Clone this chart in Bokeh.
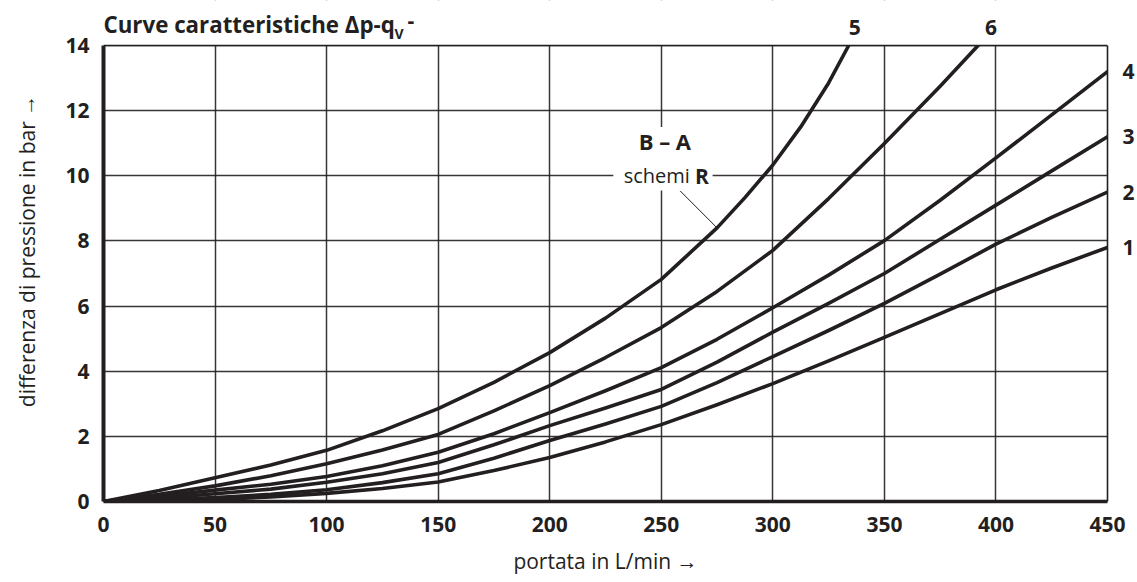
from bokeh.plotting import figure
from bokeh.models import Range1d, FixedTicker, Label, BoxAnnotation, LinearAxis, Span
from bokeh.embed import file_html
from bokeh.resources import INLINE

# ---------------- data ----------------
x_ticks = [0, 50, 100, 150, 200, 250, 300, 350, 400, 450]
y_ticks = [0, 2, 4, 6, 8, 10, 12, 14]

q = [0, 25, 50, 75, 100, 125, 150, 175, 200, 225, 250, 275, 300, 325, 350, 375, 400, 425, 450]
dp1 = [0, 0.02, 0.06, 0.14, 0.25, 0.40, 0.60, 0.95, 1.35, 1.83, 2.36, 2.97, 3.62, 4.32, 5.04, 5.77, 6.50, 7.17, 7.80]
dp2 = [0, 0.05, 0.12, 0.22, 0.36, 0.58, 0.85, 1.33, 1.87, 2.38, 2.92, 3.65, 4.45, 5.25, 6.08, 6.98, 7.90, 8.72, 9.50]
dp3 = [0, 0.10, 0.24, 0.38, 0.59, 0.85, 1.20, 1.74, 2.33, 2.87, 3.44, 4.28, 5.20, 6.08, 7.00, 8.05, 9.10, 10.15, 11.20]
dp4 = [0, 0.16, 0.35, 0.53, 0.77, 1.10, 1.51, 2.08, 2.73, 3.40, 4.11, 4.98, 5.95, 6.95, 8.01, 9.25, 10.55, 11.87, 13.20]
q6 = [0, 25, 50, 75, 100, 125, 150, 175, 200, 225, 250, 275, 300, 325, 350, 375, 392]
dp6 = [0, 0.22, 0.48, 0.79, 1.16, 1.58, 2.06, 2.78, 3.56, 4.42, 5.34, 6.45, 7.71, 9.30, 10.99, 12.75, 14.0]
q5 = [0, 25, 50, 75, 100, 125, 150, 175, 200, 225, 250, 275, 287.5, 300, 312.5, 325, 334]
dp5 = [0, 0.34, 0.73, 1.12, 1.57, 2.17, 2.85, 3.66, 4.57, 5.63, 6.82, 8.40, 9.33, 10.33, 11.50, 12.85, 14.0]

right_names = ["1", "2", "3", "4"]
right_values = [dp1[-1], dp2[-1], dp3[-1], dp4[-1]]
top_names = ["5", "6"]
top_values = [q5[-1], q6[-1]]
top_dx = [6, 13]            # px shift of the top labels from the curve exits

title_main = "Curve caratteristiche \u0394p-q"
title_sub = "V"
title_tail = "-"
x_label = "portata in L/min \u2192"
y_label = "differenza di pressione in bar \u2192"

INK = "#231f20"
FONT = "Open Sans"
W, H = 1137, 582
BL, BR, BT, BB = 103, 29, 45, 81      # wanted chart-box margins in px

X0, X1, Y0, Y1 = 0, 450, 0, 14
# the plotting frame reaches the canvas top so the texts above the box are not clipped
Y_TOP = Y1 + BT * (Y1 - Y0) / (H - BT - BB)

p = figure(width=W, height=H, output_backend="svg", toolbar_location=None,
           x_range=Range1d(X0, X1), y_range=Range1d(Y0, Y_TOP),
           min_border_left=BL, min_border_right=BR, min_border_top=0, min_border_bottom=BB)
p.background_fill_color = "white"
p.border_fill_color = "white"
p.outline_line_color = None

xb = p.below[0]
yl = p.left[0]
xb.ticker = FixedTicker(ticks=x_ticks)
yl.ticker = FixedTicker(ticks=y_ticks)
yl.bounds = (Y0, Y1)
p.xgrid.ticker = FixedTicker(ticks=x_ticks)
p.ygrid.ticker = FixedTicker(ticks=y_ticks)
for g in (p.xgrid, p.ygrid):
    g.grid_line_color = INK
    g.grid_line_width = 1.5
    g.grid_line_alpha = 0.9

right_axis = LinearAxis(ticker=FixedTicker(ticks=right_values), bounds=(Y0, Y1),
                        major_label_overrides={v: n for v, n in zip(right_values, right_names)})
p.add_layout(right_axis, "right")

for ax in (xb, yl, right_axis):
    ax.major_tick_line_color = None
    ax.minor_tick_line_color = None
    ax.major_tick_out = 0
    ax.major_tick_in = 0
    ax.minor_tick_out = 0
    ax.minor_tick_in = 0
    ax.axis_line_color = INK
    ax.major_label_text_font = FONT
    ax.major_label_text_font_size = "21px"
    ax.major_label_text_font_style = "bold"
    ax.major_label_text_color = INK
    ax.axis_label_text_font = FONT
    ax.axis_label_text_font_size = "21px"
    ax.axis_label_text_font_style = "normal"
    ax.axis_label_text_color = INK
right_axis.axis_line_width = 1.6
right_axis.major_label_standoff = 15
xb.axis_line_width = 3.5
yl.axis_line_width = 4
xb.major_label_standoff = 15
yl.major_label_standoff = 14
xb.axis_label = x_label
yl.axis_label = y_label
xb.axis_label_standoff = 12
yl.axis_label_standoff = 21

for xs, ys in zip([q, q, q, q, q5, q6], [dp1, dp2, dp3, dp4, dp5, dp6]):
    p.line(xs, ys, line_color=INK, line_width=3.6, line_join="round", line_cap="round")

# blank band above the chart box, and the box's top edge
p.add_layout(BoxAnnotation(left=X0, right=X1, bottom=Y1, top=Y_TOP,
                           fill_color="white", fill_alpha=1.0, line_color=None))
p.add_layout(Span(location=Y1, dimension="width", line_color=INK, line_width=1.6))

def text_label(x, y, text, size, style="bold", align="left", baseline="middle", dx=0, dy=0):
    return Label(x=x, y=y, x_offset=dx, y_offset=dy, text=text,
                 text_align=align, text_baseline=baseline,
                 text_font=FONT, text_font_size=size, text_font_style=style,
                 text_color=INK)

# curve labels 5 and 6 above the box, at the curves' exit points
for name, qv, dx in zip(top_names, top_values, top_dx):
    p.add_layout(text_label(qv, Y1, name, "21px", align="center", dx=dx, dy=18))

# title
p.add_layout(text_label(X0, Y1, title_main, "22.3px", dx=0, dy=21))
p.add_layout(text_label(X0, Y1, title_sub, "14px", dx=291, dy=12))
p.add_layout(text_label(X0, Y1, title_tail, "21px", dx=304, dy=25))

# "B – A / schemi R" annotation
p.add_layout(BoxAnnotation(left=228.5, right=273, bottom=9.55, top=11.5,
                           fill_color="white", fill_alpha=1.0, line_color=None))
p.add_layout(text_label(251.6, 11.08, "B \u2013 A", "22px", align="center"))
p.add_layout(text_label(262.8, 10, "schemi", "20px", style="normal", align="right"))
p.add_layout(text_label(265.1, 10, "R", "21px", align="left"))
p.segment(x0=[258.4], y0=[9.54], x1=[q5[11]], y1=[dp5[11]], line_color=INK, line_width=1)

open("out.html", "w").write(file_html(p, INLINE))
